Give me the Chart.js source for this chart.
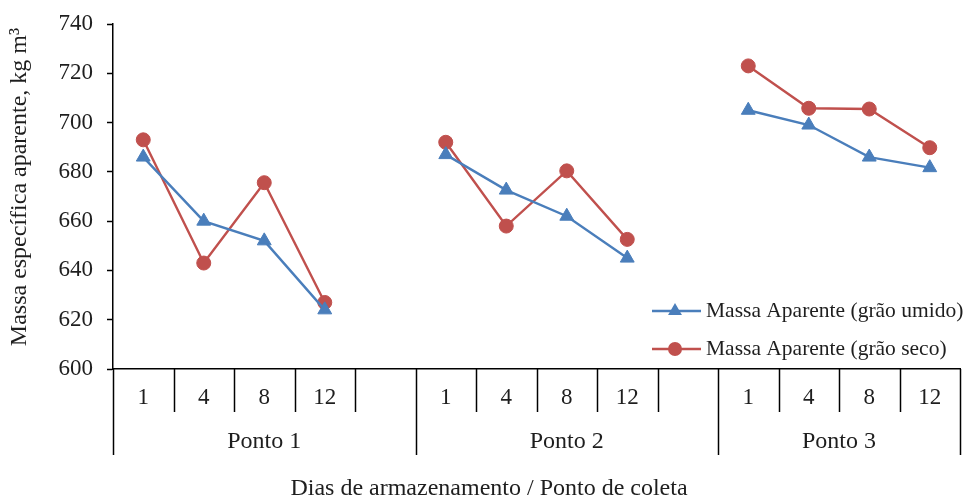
<!DOCTYPE html>
<html lang="pt">
<head>
<meta charset="utf-8">
<title>Massa específica aparente</title>
<script src="https://cdn.jsdelivr.net/npm/chart.js@4.4.1/dist/chart.umd.min.js"></script>
<style>
  html, body { margin: 0; padding: 0; background: #fff; }
  #wrap { width: 969px; height: 499px; position: relative; }
</style>
</head>
<body>
<div id="wrap"><canvas id="massa-chart"></canvas></div>
<script>
// dias de armazenamento (com coluna vazia entre os pontos)
const dias = ['1', '4', '8', '12', '', '1', '4', '8', '12', '', '1', '4', '8', '12'];
const pontos = ['Ponto 1', 'Ponto 2', 'Ponto 3'];
const colunasPorPonto = [5, 5, 4];

const grauUmido = [686, 660, 652, 624, null, 687, 672.6, 662, 645, null, 705, 699, 686, 681.7];
const grauSeco = [693, 643, 675.6, 627, null, 692, 658, 680.4, 652.6, null, 723, 705.8, 705.5, 689.8];

const yTicks = [600, 620, 640, 660, 680, 700, 720, 740];

const AZUL = '#4A7EBB';
const VERMELHO = '#C0504D';
const FONTE = "'Liberation Serif', 'Times New Roman', serif";
const TEXTO = '#1e1e1e';

// eixo x em dois níveis, títulos dos eixos e legenda interna
const eixoAgrupado = {
  id: 'eixoAgrupado',
  afterDraw(chart) {
    const { ctx, chartArea } = chart;
    const x = chart.scales.x;
    const base = chartArea.bottom;
    const n = dias.length;

    const limite = (i) => {
      if (i === 0) return x.left;
      if (i === n) return x.right;
      return (x.getPixelForValue(i - 1) + x.getPixelForValue(i)) / 2;
    };

    const fimGrupo = new Set([0]);
    let acc = 0;
    colunasPorPonto.forEach((c) => { acc += c; fimGrupo.add(acc); });

    ctx.save();
    ctx.strokeStyle = '#000';
    ctx.lineWidth = 1.5;
    for (let i = 0; i <= n; i++) {
      const px = Math.round(limite(i)) + 0.5;
      ctx.beginPath();
      ctx.moveTo(px, base);
      ctx.lineTo(px, base + (fimGrupo.has(i) ? 86 : 43));
      ctx.stroke();
    }

    ctx.fillStyle = TEXTO;
    ctx.font = '24px ' + FONTE;
    ctx.textAlign = 'center';
    ctx.textBaseline = 'middle';
    acc = 0;
    pontos.forEach((p, k) => {
      const l = limite(acc);
      const r = limite(acc + colunasPorPonto[k]);
      ctx.fillText(p, (l + r) / 2, base + 73);
      acc += colunasPorPonto[k];
    });

    ctx.fillText('Dias de armazenamento / Ponto de coleta', 489, base + 120);

    // título do eixo y
    ctx.save();
    ctx.translate(20, 187);
    ctx.rotate(-Math.PI / 2);
    ctx.fillText('Massa específica aparente, kg m³', 0, 0);
    ctx.restore();

    // legenda
    ctx.font = '21.5px ' + FONTE;
    ctx.textAlign = 'left';
    chart.data.datasets.forEach((ds, i) => {
      const y = chartArea.bottom - 58 + i * 38;
      const x0 = chartArea.right - 308;
      const xm = x0 + 23;
      ctx.strokeStyle = ds.borderColor;
      ctx.lineWidth = ds.borderWidth;
      ctx.beginPath();
      ctx.moveTo(x0, y);
      ctx.lineTo(x0 + 49, y);
      ctx.stroke();
      ctx.fillStyle = ds.borderColor;
      ctx.beginPath();
      if (ds.pointStyle === 'triangle') {
        const r = ds.pointRadius;
        ctx.moveTo(xm, y - r);
        ctx.lineTo(xm + r * 0.866, y + r * 0.5);
        ctx.lineTo(xm - r * 0.866, y + r * 0.5);
        ctx.closePath();
      } else {
        ctx.arc(xm, y, ds.pointRadius, 0, Math.PI * 2);
      }
      ctx.fill();
      ctx.fillStyle = TEXTO;
      ctx.fillText(ds.label, x0 + 54, y);
    });
    ctx.restore();
  }
};

new Chart(document.getElementById('massa-chart'), {
  type: 'line',
  data: {
    labels: dias,
    datasets: [
      {
        label: 'Massa Aparente (grão umido)',
        data: grauUmido,
        borderColor: AZUL,
        backgroundColor: AZUL,
        borderWidth: 2.4,
        pointStyle: 'triangle',
        pointRadius: 8,
        pointBorderWidth: 1,
        spanGaps: false,
      },
      {
        label: 'Massa Aparente (grão seco)',
        data: grauSeco,
        borderColor: VERMELHO,
        backgroundColor: VERMELHO,
        borderWidth: 2.4,
        pointStyle: 'circle',
        pointRadius: 7,
        pointBorderWidth: 1,
        spanGaps: false,
      },
    ],
  },
  options: {
    responsive: true,
    maintainAspectRatio: false,
    animation: false,
    layout: { padding: { top: 24, right: 4, bottom: 0, left: 0 } },
    plugins: {
      legend: { display: false },
      tooltip: { enabled: false },
    },
    scales: {
      x: {
        offset: true,
        afterFit: (s) => { s.height = 130; s.paddingLeft = 0; s.paddingRight = 0; },
        grid: { display: true, drawOnChartArea: false, drawTicks: false },
        border: { display: true, color: '#000', width: 1.5 },
        ticks: {
          color: TEXTO,
          font: { family: FONTE, size: 23 },
          padding: 15,
          maxRotation: 0,
          autoSkip: false,
        },
      },
      y: {
        min: 600,
        max: 740,
        afterFit: (s) => { s.width = 113; s.paddingTop = 0; s.paddingBottom = 0; },
        afterBuildTicks: (s) => { s.ticks = yTicks.map((v) => ({ value: v })); },
        grid: { drawOnChartArea: false, tickLength: 6, color: '#000', tickWidth: 1.5 },
        border: { display: true, color: '#000', width: 1.5 },
        ticks: {
          color: TEXTO,
          font: { family: FONTE, size: 23 },
          padding: 14,
        },
      },
    },
  },
  plugins: [eixoAgrupado],
});
</script>
</body>
</html>
